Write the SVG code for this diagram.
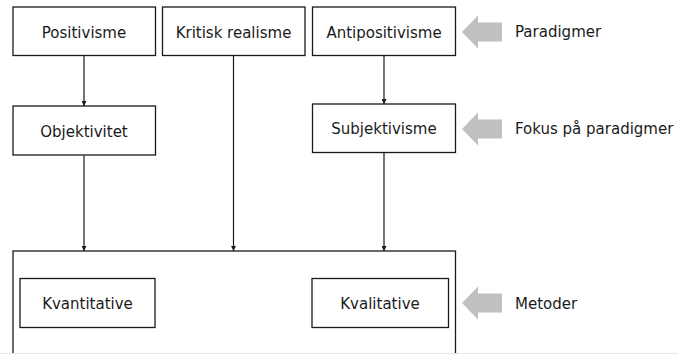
<svg xmlns="http://www.w3.org/2000/svg" width="678" height="354" viewBox="0 0 678 354">
  <style>
    .box { fill: #ffffff; stroke: #1a1a1a; stroke-width: 1.3; }
    .lbl { font-family: "DejaVu Sans", Verdana, sans-serif; font-size: 15px; fill: #1a1a1a; text-anchor: middle; }
    .side { font-family: "DejaVu Sans", Verdana, sans-serif; font-size: 15px; fill: #1a1a1a; }
    .conn { stroke: #1a1a1a; stroke-width: 1.2; fill: none; marker-end: url(#tip); }
    .pointer { fill: #c0c0c0; }
  </style>
  <defs>
    <marker id="tip" viewBox="0 0 10 10" refX="10" refY="5" markerWidth="5" markerHeight="5" orient="auto" markerUnits="userSpaceOnUse">
      <path d="M0,0 L10,5 L0,10 z" fill="#1a1a1a"/>
    </marker>
    <path id="grayArrow" d="M0,0 L16,-16.5 L16,-9.5 L40,-9.5 L40,9.5 L16,9.5 L16,16.5 z"/>
  </defs>

  <g id="connectors">
    <line class="conn" x1="84" y1="55.5" x2="84" y2="106"/>
    <line class="conn" x1="84" y1="155.5" x2="84" y2="251"/>
    <line class="conn" x1="233.5" y1="55.5" x2="233.5" y2="251"/>
    <line class="conn" x1="384" y1="55.5" x2="384" y2="104"/>
    <line class="conn" x1="384" y1="152.5" x2="384" y2="251"/>
  </g>

  <g id="metoder-group">
    <rect class="box" x="13" y="251" width="442.5" height="110"/>
  </g>

  <g id="positivisme">
    <rect class="box" x="13" y="7" width="142.5" height="48.5"/>
    <text class="lbl" x="84" y="37.5">Positivisme</text>
  </g>
  <g id="kritisk-realisme">
    <rect class="box" x="162.5" y="7" width="142.5" height="48.5"/>
    <text class="lbl" x="233.5" y="37.5">Kritisk realisme</text>
  </g>
  <g id="antipositivisme">
    <rect class="box" x="312.5" y="7" width="143" height="48.5"/>
    <text class="lbl" x="384" y="37.5">Antipositivisme</text>
  </g>
  <g id="objektivitet">
    <rect class="box" x="13" y="106" width="142.5" height="49"/>
    <text class="lbl" x="84" y="136.5">Objektivitet</text>
  </g>
  <g id="subjektivisme">
    <rect class="box" x="312.5" y="104" width="143" height="48.5"/>
    <text class="lbl" x="384" y="134">Subjektivisme</text>
  </g>
  <g id="kvantitative">
    <rect class="box" x="20" y="278.5" width="135" height="49"/>
    <text class="lbl" x="87.5" y="309">Kvantitative</text>
  </g>
  <g id="kvalitative">
    <rect class="box" x="312" y="278.5" width="136.5" height="49"/>
    <text class="lbl" x="380" y="309">Kvalitative</text>
  </g>

  <g id="level-paradigmer">
    <use href="#grayArrow" class="pointer" transform="translate(462,32)"/>
    <text class="side" x="515" y="37">Paradigmer</text>
  </g>
  <g id="level-fokus">
    <use href="#grayArrow" class="pointer" transform="translate(462,129)"/>
    <text class="side" x="515" y="134">Fokus på paradigmer</text>
  </g>
  <g id="level-metoder">
    <use href="#grayArrow" class="pointer" transform="translate(462,303)"/>
    <text class="side" x="515" y="309">Metoder</text>
  </g>

  <!-- faint bottom border of the canvas -->
  <rect x="0" y="353" width="678" height="1" fill="#e6e6e6"/>
</svg>
